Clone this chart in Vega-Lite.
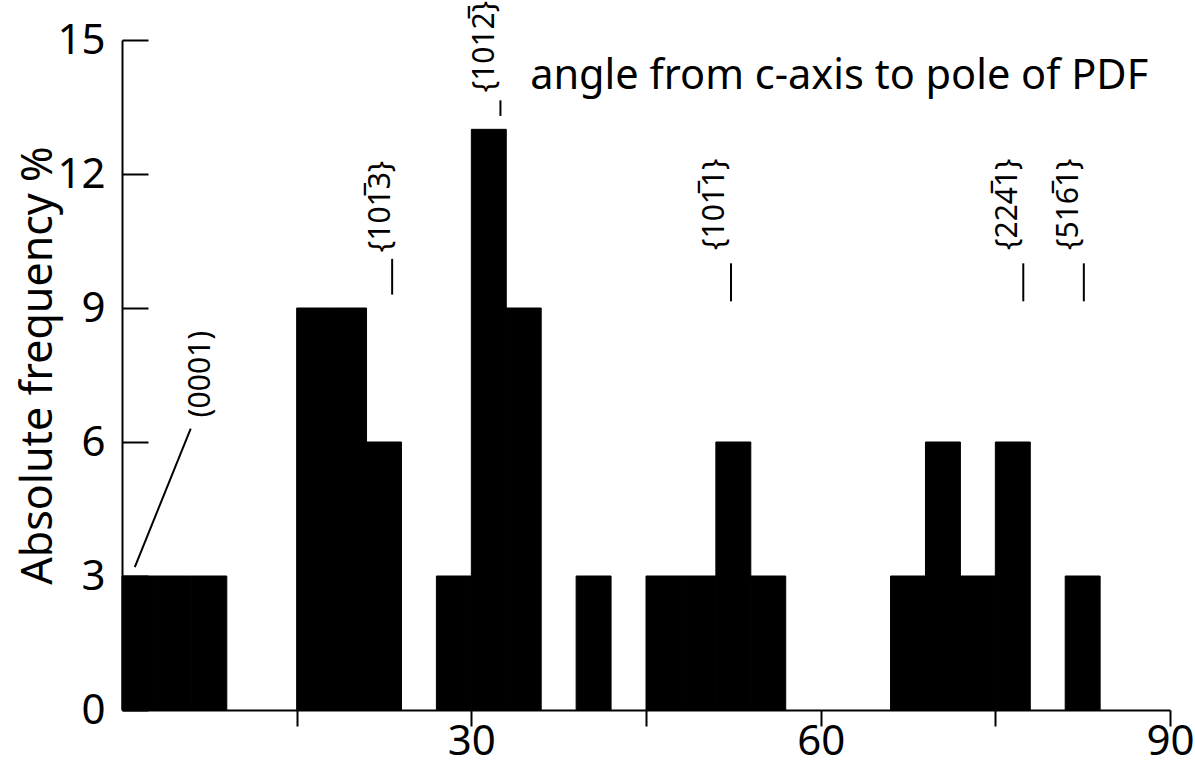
{
  "$schema": "https://vega.github.io/schema/vega-lite/v6.json",
  "width": 1048,
  "height": 670,
  "autosize": "none",
  "padding": {"left": 122, "top": 40, "right": 25, "bottom": 58},
  "background": "white",
  "config": {
    "view": {"stroke": null},
    "font": "Noto Sans",
    "axis": {
      "grid": false,
      "domainColor": "black",
      "domainWidth": 2,
      "tickColor": "black",
      "tickWidth": 2,
      "labelColor": "black",
      "titleColor": "black",
      "labelFont": "Noto Sans",
      "titleFont": "Noto Sans",
      "labelFontSize": 42,
      "titleFontWeight": "normal"
    }
  },
  "datasets": {
    "bins": [
      {"start": 0, "end": 3, "freq": 3},
      {"start": 3, "end": 6, "freq": 3},
      {"start": 6, "end": 9, "freq": 3},
      {"start": 15, "end": 18, "freq": 9},
      {"start": 18, "end": 21, "freq": 9},
      {"start": 21, "end": 24, "freq": 6},
      {"start": 27, "end": 30, "freq": 3},
      {"start": 30, "end": 33, "freq": 13},
      {"start": 33, "end": 36, "freq": 9},
      {"start": 39, "end": 42, "freq": 3},
      {"start": 45, "end": 48, "freq": 3},
      {"start": 48, "end": 51, "freq": 3},
      {"start": 51, "end": 54, "freq": 6},
      {"start": 54, "end": 57, "freq": 3},
      {"start": 66, "end": 69, "freq": 3},
      {"start": 69, "end": 72, "freq": 6},
      {"start": 72, "end": 75, "freq": 3},
      {"start": 75, "end": 78, "freq": 6},
      {"start": 81, "end": 84, "freq": 3}
    ],
    "leaders": [
      {"x": 1.1, "y": 3.2, "x2": 5.9, "y2": 6.3},
      {"x": 23.2, "y": 9.3, "x2": 23.2, "y2": 10.1},
      {"x": 32.5, "y": 13.3, "x2": 32.5, "y2": 13.65},
      {"x": 52.3, "y": 9.15, "x2": 52.3, "y2": 10.0},
      {"x": 77.4, "y": 9.15, "x2": 77.4, "y2": 10.0},
      {"x": 82.6, "y": 9.15, "x2": 82.6, "y2": 10.0}
    ],
    "labels": [
      {"x": 6.8, "y": 6.55, "label": "(0001)"},
      {"x": 22.2, "y": 10.25, "label": "{101̅3}"},
      {"x": 31.2, "y": 13.83, "label": "{1012̅}"},
      {"x": 50.9, "y": 10.3, "label": "{101̅1}"},
      {"x": 76.1, "y": 10.3, "label": "{224̅1}"},
      {"x": 81.3, "y": 10.3, "label": "{516̅1}"}
    ],
    "note": [
      {"x": 35.05, "y": 13.9, "label": "angle from c-axis to pole of PDF"}
    ]
  },
  "layer": [
    {
      "data": {"name": "bins"},
      "mark": {"type": "bar", "color": "black", "stroke": "black", "strokeWidth": 1},
      "encoding": {
        "x": {
          "field": "start", "type": "quantitative",
          "scale": {"domain": [0, 90], "nice": false, "zero": false},
          "axis": {
            "title": null,
            "values": [15, 30, 45, 60, 75, 90],
            "labelExpr": "datum.value % 30 == 0 ? datum.label : ''",
            "labelFlush": false,
            "tickSize": 16,
            "labelPadding": -5
          }
        },
        "x2": {"field": "end"},
        "y": {
          "field": "freq", "type": "quantitative",
          "scale": {"domain": [0, 15], "nice": false},
          "axis": {
            "title": "Absolute frequency %",
            "titleFontSize": 43,
            "titlePadding": -4,
            "titleY": 325,
            "values": [0, 3, 6, 9, 12, 15],
            "tickSize": -26,
            "labelPadding": 43
          }
        },
        "y2": {"datum": 0}
      }
    },
    {
      "data": {"name": "leaders"},
      "mark": {"type": "rule", "color": "black", "strokeWidth": 2},
      "encoding": {
        "x": {"field": "x", "type": "quantitative"},
        "y": {"field": "y", "type": "quantitative"},
        "x2": {"field": "x2"},
        "y2": {"field": "y2"}
      }
    },
    {
      "data": {"name": "labels"},
      "mark": {"type": "text", "angle": 270, "align": "left", "baseline": "middle", "fontSize": 30, "font": "Noto Sans", "color": "black"},
      "encoding": {
        "x": {"field": "x", "type": "quantitative"},
        "y": {"field": "y", "type": "quantitative"},
        "text": {"field": "label"}
      }
    },
    {
      "data": {"name": "note"},
      "mark": {"type": "text", "align": "left", "baseline": "alphabetic", "fontSize": 41.5, "font": "Noto Sans", "color": "black"},
      "encoding": {
        "x": {"field": "x", "type": "quantitative"},
        "y": {"field": "y", "type": "quantitative"},
        "text": {"field": "label"}
      }
    }
  ]
}
